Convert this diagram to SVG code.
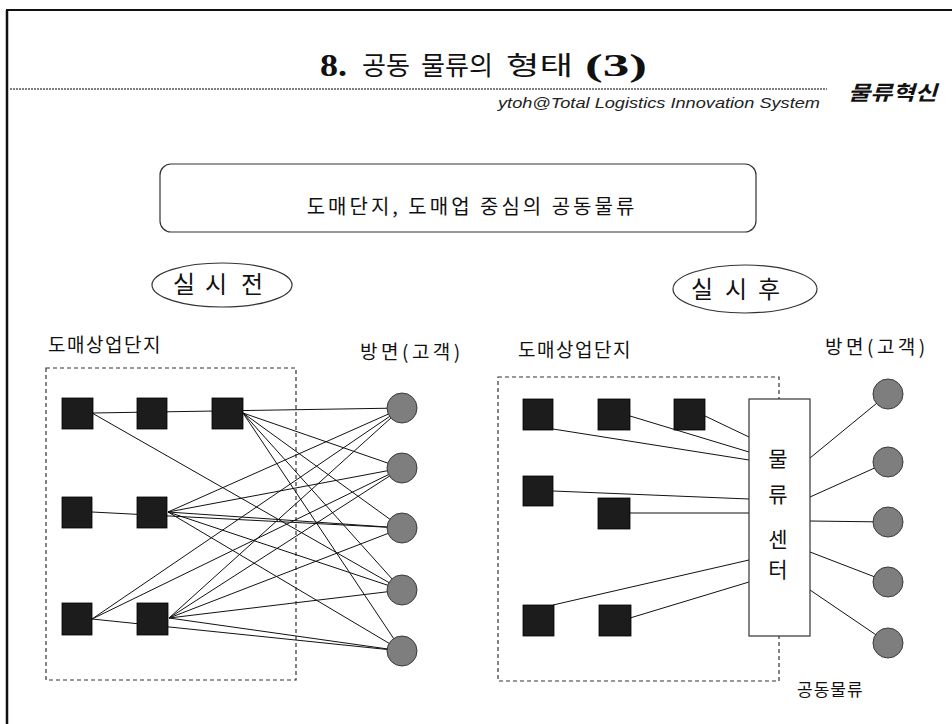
<svg xmlns="http://www.w3.org/2000/svg" width="952" height="724" viewBox="0 0 952 724">
<style>
.kr{font-family:"Noto Sans CJK KR","Noto Sans",sans-serif;fill:#111}
.tm{font-family:"Liberation Serif",serif;font-weight:bold;fill:#111}
.sq{fill:#1c1c1c;stroke:#000;stroke-width:0.8}
.ci{fill:#7e7e7e;stroke:#3a3a3a;stroke-width:1}
.ln{stroke:#111;stroke-width:1;fill:none}
.dash{fill:none;stroke:#333;stroke-width:1.2;stroke-dasharray:4 3}
</style>
<rect width="952" height="724" fill="#fff"/>
<g id="frame">
<line x1="6" y1="10" x2="952" y2="10" stroke="#111" stroke-width="2"/>
<line x1="7" y1="10" x2="7" y2="724" stroke="#111" stroke-width="2.5"/>
<line x1="10" y1="89" x2="827" y2="89" stroke="#555" stroke-width="1.5" stroke-dasharray="2 1"/>
</g>
<g id="title">
<text x="320" y="76" font-size="32" class="tm" textLength="27" lengthAdjust="spacingAndGlyphs">8.</text>
<text x="362" y="75" font-size="26" class="kr" textLength="48" lengthAdjust="spacingAndGlyphs">공동</text>
<text x="421" y="75" font-size="26" class="kr" textLength="72" lengthAdjust="spacingAndGlyphs">물류의</text>
<text x="506" y="75" font-size="26" class="kr" textLength="67" lengthAdjust="spacingAndGlyphs">형태</text>
<text x="585" y="76" font-size="32" class="tm" textLength="62" lengthAdjust="spacingAndGlyphs">(3)</text>
<text x="498" y="108" font-family="Liberation Sans,Arial,sans-serif" font-style="italic" font-size="14" fill="#222" textLength="322" lengthAdjust="spacingAndGlyphs">ytoh@Total Logistics Innovation System</text>
<text x="848" y="100" class="kr" font-size="20" font-weight="bold" font-style="italic" textLength="89" lengthAdjust="spacingAndGlyphs">물류혁신</text>
</g>
<g id="banner">
<rect x="160" y="164" width="596" height="68" rx="11" fill="#fff" stroke="#333" stroke-width="1.2"/>
<text x="472" y="214" class="kr" font-size="20" letter-spacing="3" text-anchor="middle">도매단지, 도매업 중심의 공동물류</text>
</g>
<g id="before-label">
<ellipse cx="222" cy="285" rx="70" ry="22" fill="#fff" stroke="#333" stroke-width="1.2"/>
<text y="293" class="kr" font-size="24"><tspan x="173">실</tspan><tspan x="205">시</tspan><tspan x="241">전</tspan></text>
</g>
<g id="after-label">
<ellipse cx="745" cy="289" rx="72" ry="24" fill="#fff" stroke="#333" stroke-width="1.2"/>
<text y="298" class="kr" font-size="24"><tspan x="691">실</tspan><tspan x="725">시</tspan><tspan x="758">후</tspan></text>
</g>
<g id="labels">
<text x="48" y="352" class="kr" font-size="19" letter-spacing="1.5">도매상업단지</text>
<text x="360" y="359" class="kr" font-size="19" letter-spacing="3.5">방면(고객)</text>
<text x="518" y="357" class="kr" font-size="19" letter-spacing="1.5">도매상업단지</text>
<text x="825" y="354" class="kr" font-size="19" letter-spacing="3.5">방면(고객)</text>
<text x="797" y="696" class="kr" font-size="17" letter-spacing="1">공동물류</text>
</g>
<g id="left-area"><rect x="46" y="368" width="250" height="312" class="dash"/></g>
<g id="right-area"><rect x="498" y="377" width="281" height="304" class="dash"/></g>
<g id="connectors">
<path class="ln" d="M92,413 L402,408 M92,413 L402,590 M243,413 L402,468 M243,413 L402,528 M243,413 L402,590 M243,413 L402,651 M92,512 L402,528 M168,512 L402,408 M168,512 L402,468 M168,512 L402,528 M168,512 L402,590 M168,512 L402,651 M92,619 L402,408 M92,619 L402,468 M92,619 L402,651 M169,618 L402,408 M169,618 L402,468 M169,618 L402,528 M169,618 L402,590 M169,618 L402,651"/>
<path class="ln" d="M553,429 L749,460 M630,416 L749,452 M705,416 L749,437 M553,491 L749,499 M630,513 L749,513 M553,605 L749,560 M630,618 L749,582 M810,458 L888,394 M810,497 L888,462 M810,521 L888,522 M810,552 L888,582 M810,590 L888,643"/>
</g>
<g id="left-wholesalers">
<rect id="L11" x="62" y="398" width="31" height="31" class="sq"/>
<rect id="L12" x="137" y="398" width="30" height="31" class="sq"/>
<rect id="L13" x="212" y="398" width="31" height="31" class="sq"/>
<rect id="L21" x="62" y="497" width="30" height="31" class="sq"/>
<rect id="L22" x="137" y="497" width="30" height="31" class="sq"/>
<rect id="L31" x="62" y="603" width="30" height="32" class="sq"/>
<rect id="L32" x="137" y="603" width="31" height="32" class="sq"/>
</g>
<g id="left-customers">
<circle cx="402" cy="408" r="15" class="ci"/>
<circle cx="402" cy="468" r="15" class="ci"/>
<circle cx="402" cy="528" r="15" class="ci"/>
<circle cx="402" cy="590" r="15" class="ci"/>
<circle cx="402" cy="651" r="15" class="ci"/>
</g>
<g id="right-wholesalers">
<rect x="523" y="399" width="30" height="31" class="sq"/>
<rect x="598" y="399" width="32" height="31" class="sq"/>
<rect x="674" y="399" width="31" height="31" class="sq"/>
<rect x="523" y="476" width="30" height="30" class="sq"/>
<rect x="598" y="498" width="32" height="31" class="sq"/>
<rect x="523" y="605" width="31" height="31" class="sq"/>
<rect x="599" y="605" width="32" height="31" class="sq"/>
</g>
<g id="center">
<rect x="749" y="399" width="61" height="237" fill="#fff" stroke="#333" stroke-width="1.2"/>
<text class="kr" font-size="21" text-anchor="middle"><tspan x="778" y="466">물</tspan><tspan x="778" y="502">류</tspan><tspan x="778" y="547">센</tspan><tspan x="778" y="577">터</tspan></text>
</g>
<g id="right-customers">
<circle cx="888" cy="394" r="15" class="ci"/>
<circle cx="888" cy="462" r="15" class="ci"/>
<circle cx="888" cy="522" r="15" class="ci"/>
<circle cx="888" cy="582" r="15" class="ci"/>
<circle cx="888" cy="643" r="15" class="ci"/>
</g>
</svg>
